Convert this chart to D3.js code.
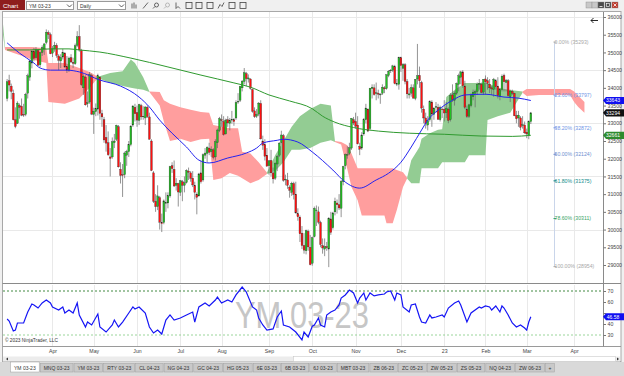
<!DOCTYPE html>
<html>
<head>
<meta charset="utf-8">
<script src="https://cdn.jsdelivr.net/npm/d3@7"></script>
<style>
  html, body { margin: 0; padding: 0; background: #f0f0f0; }
  svg { display: block; font-family: "Liberation Sans", Arial, sans-serif; }
</style>
</head>
<body>
<svg id="chart" width="624" height="376"></svg>
<script>
// ---- data (daily bars, index 0 = first visible bar) ----
const opens = [
  33700,34200,34050,33850,33100,33000,33500,33480,33250,33250,
  33850,34300,34700,35030,34850,35050,34650,35000,35100,35280,
  35560,35500,34980,35100,35200,34900,34760,34870,34980,34600,
  34500,34850,34720,34680,35200,35450,35050,34000,34300,33550,
  33600,34350,33250,33330,33400,34300,33270,33100,32600,32450,
  32050,32050,32450,32550,32900,31700,31550,31550,32100,32200,
  32400,32950,33450,33300,33080,33500,33200,33150,33450,33180,
  32500,31600,30800,30650,30900,30200,30200,30750,30750,30950,
  31800,31700,31250,31300,31050,31350,31250,31330,31650,31600,
  31450,31250,31000,30950,31600,31400,32100,32150,32300,32200,
  32250,32050,32450,32800,33100,33050,32700,33100,33000,33100,
  33100,33150,33600,33650,34000,34180,34400,34250,34250,33950,
  33350,33200,33260,33560,32500,32400,32100,31800,31950,31600,
  31450,31850,32100,32450,32650,31400,31400,31200,31050,31300,
  31000,30450,30350,29900,29550,29400,29950,29500,29050,29800,
  30550,30500,30200,29550,29450,29520,29450,30300,30050,30500,
  30750,30700,30600,31350,31800,32100,32150,32300,33100,33050,
  32950,32350,32300,32700,33100,33400,32850,33980,34000,33850,
  33850,33800,33850,34000,33980,34350,34480,34500,34600,34120,
  34100,34850,34550,34650,34180,33800,33850,34000,33700,34250,
  34350,34150,33400,33150,32950,33100,33600,33250,33450,33450,
  33100,33400,33400,33300,33400,33100,33800,33650,33850,34100,
  34300,34450,34050,33400,33200,33500,33750,33850,33900,34100,
  34100,33880,34250,34200,34100,34000,33950,34200,34050,33750,
  33950,34350,34150,34200,33750,33900,33850,33220,33150,33150,
  32950,32950,32750,32650,33050
];
const highs = [
  34250,34370,34120,33950,33450,33620,33560,33700,33550,33860,
  34400,34790,35060,35130,35150,35100,35020,35200,35260,35650,
  35620,35560,35180,35300,35260,34950,34950,35100,35010,34900,
  34880,34950,34850,35250,35600,35770,35100,34380,34350,33900,
  34450,34400,33440,33560,34400,34330,33380,33180,32950,32770,
  32300,32600,32700,32960,32950,31900,31850,32200,32250,32500,
  32950,33500,33550,33500,33550,33550,33480,33480,33500,33300,
  32550,31650,31000,31250,30950,30450,30850,31050,31050,31800,
  31900,31950,31450,31320,31400,31400,31500,31700,31750,31650,
  31650,31350,31050,31600,31950,32150,32300,32350,32450,32350,
  32300,32550,32850,33180,33250,33200,33130,33200,33150,33350,
  33150,33650,33850,34060,34220,34560,34450,34380,34270,33980,
  33450,33400,33600,33650,32650,32550,32300,31950,32250,31750,
  31900,32100,32470,32790,32700,31550,31600,31250,31350,31350,
  31350,30600,30400,30100,29900,30000,30000,29850,29800,30650,
  30680,30650,30250,29750,29750,29650,30350,30500,30500,30900,
  30850,31000,31400,31800,32150,32350,32450,33150,33180,33300,
  33200,32450,32750,33150,33550,33420,34000,34100,34100,34150,
  33950,33850,34100,34050,34380,34500,34530,34650,34650,34250,
  34880,34880,34700,34700,34250,34000,34100,34100,34250,35240,
  34600,34200,33500,33300,33200,33650,33650,33450,33600,33550,
  33500,33450,33650,33600,33450,33850,34100,33900,34150,34400,
  34480,34500,34200,33500,33550,33850,33950,33950,34150,34250,
  34150,34250,34350,34300,34250,34050,34280,34250,34300,34000,
  34380,34400,34250,34250,33950,33950,33860,33350,33350,33200,
  33200,33050,32850,33080,33320
];
const lows = [
  33620,33900,33680,33080,32860,32980,33130,33200,33180,33200,
  33700,34200,34550,34750,34800,34620,34580,34900,34930,35230,
  35380,34950,34870,35020,34850,34500,34560,34800,34560,34420,
  34450,34700,34560,34650,35150,35020,34050,33800,33500,33450,
  33550,33230,32700,33200,33220,33100,32900,32450,32200,32080,
  31500,32000,32300,32500,31750,31300,30920,31450,31800,32050,
  32350,32900,33050,32900,32950,33100,33100,32950,33150,32540,
  31650,30750,30500,30550,30000,29930,30150,30500,30600,30900,
  31600,31200,31100,30650,30950,30800,31050,31300,31400,31350,
  31200,30850,30430,30930,31300,31350,32000,31900,32100,32050,
  31980,31950,32300,32750,32900,32650,32680,32900,32800,32990,
  32930,33100,33550,33600,33900,34100,34050,34150,33950,33300,
  33150,33150,33200,32540,32250,31950,31780,31550,31500,31300,
  31400,31650,32050,32400,31350,31250,31150,30900,30950,30850,
  30450,30250,29650,29450,29320,29300,29400,28990,28980,29780,
  30100,30150,29500,29320,29250,29400,28940,29850,30000,30400,
  30450,30550,30350,31250,31700,32000,32100,32250,32950,32850,
  32400,32100,32250,32650,33000,32750,32800,33700,33780,33650,
  33700,33550,33800,33850,33950,34300,34420,34450,34100,34050,
  33950,34450,34200,34100,33700,33700,33750,33700,33650,34100,
  34000,33300,33000,32850,32800,33050,32900,33100,33300,33100,
  33050,33150,33050,33150,33000,33050,33600,33500,33800,33900,
  34100,34000,33400,33150,33150,33450,33650,33450,33800,33950,
  33850,33800,33800,33950,33850,33800,33750,33950,33700,33650,
  33900,33900,33900,33750,33600,33800,33200,33000,32900,32800,
  32850,32700,32580,32550,32980
];
const closes = [
  34170,34080,33900,33100,32910,33570,33450,33230,33230,33820,
  34340,34760,35040,34830,35090,34640,34990,35140,35240,35570,
  35510,34960,35100,35200,34920,34780,34860,35000,34590,34500,
  34840,34730,34690,35190,35440,35070,34090,34330,33520,33580,
  34380,33260,33340,33410,34340,33280,33180,32530,32440,32110,
  32010,32480,32500,32940,31770,31530,31540,32160,32210,32400,
  32920,33490,33270,33090,33530,33180,33200,33460,33190,32550,
  31670,30800,30650,30950,30210,30170,30810,30760,30960,31780,
  31720,31230,31310,31060,31380,31250,31320,31670,31620,31450,
  31260,31050,30910,31570,31350,32110,32160,32320,32180,32270,
  32040,32480,32810,33130,33080,32680,33090,33010,33080,33110,
  33050,33590,33620,34040,34190,34430,34260,34280,33990,33340,
  33190,33250,33570,32560,32380,32070,31790,31940,31600,31430,
  31870,32060,32440,32670,31390,31420,31250,31110,31310,30990,
  30470,30360,29880,29550,29420,29970,29510,29010,29770,30600,
  30550,30210,29580,29480,29520,29490,30320,29920,30470,30800,
  30700,30610,31360,31780,32120,32120,32310,33140,33010,32920,
  32420,32270,32670,33100,33430,32780,33990,34020,33810,33860,
  33820,33820,34020,33970,34370,34470,34500,34620,34120,34120,
  34860,34630,34660,34180,33830,33830,34010,33710,34240,34340,
  34200,33430,33150,32990,33080,33610,33260,33430,33470,33110,
  33450,33380,33290,33420,33080,33780,33670,33850,34120,34340,
  34450,34060,33450,33190,33520,33780,33880,33890,34100,34130,
  33870,34240,34170,34130,34000,33970,34240,34030,33780,33950,
  34330,34170,34210,33780,33910,33850,33210,33130,33230,32890,
  32960,32730,32700,33050,33294
];

// month starts (bar index) and their labels
const monthIdx = [22, 42, 63, 84, 104, 127, 148, 169, 191, 212, 232, 252, 275];
const monthLbl = ["Apr", "May", "Jun", "Jul", "Aug", "Sep", "Oct", "Nov", "Dec", "23", "Feb", "Mar", "Apr"];

// ichimoku cloud edges (1 = bullish/green to next point, 0 = bearish/pink)
const cloudIdx = [-2, -1, 6, 12, 19, 20, 28, 35, 40, 44, 50, 56, 60, 62, 66, 69, 74, 76, 79, 84, 89, 94, 98,
  100, 104, 108, 112, 114, 118, 122, 126, 130, 134, 138, 142, 147, 152, 157, 159, 162, 165, 167, 170, 172,
  183, 184, 187, 189, 192, 194, 196, 200, 201, 205, 209, 211, 213, 217, 222, 224, 232, 233, 238, 244, 250,
  252, 258, 265, 273, 275, 277, 280];
const cloudHi = [35800, 35150, 35150, 35150, 35120, 34700, 34700, 34560, 34450, 34310, 34420, 34470, 34800, 34700,
  34300, 33900, 33880, 33650, 33550, 33450, 33380, 33320, 33300, 32950, 32900, 32860, 32860, 32200, 32150, 31900,
  31610, 32100, 32500, 32900, 33200, 33400, 33550, 33500, 32500, 32470, 32380, 32150, 31730, 31730, 31730, 31730,
  31730, 31680, 31620, 31460, 31960, 32330, 32560, 32720, 32820, 32830, 33740, 33940, 34140, 34140, 34140, 34140,
  34000, 33940, 33900, 33970, 33970, 33970, 33970, 33900, 33780, 33600];
const cloudLo = [35500, 35070, 34930, 34800, 34700, 33600, 33550, 33700, 34000, 34280, 34140, 34050, 34000, 33980,
  33950, 33880, 33500, 33050, 32500, 32560, 32470, 32550, 32560, 31400, 31450, 31600, 31520, 31450, 31310, 31400,
  31570, 31650, 31900, 32250, 32250, 32300, 32450, 32520, 32470, 32400, 31700, 31200, 30830, 30400, 30400, 30180,
  30180, 30550, 31200, 31440, 31310, 31310, 31730, 31730, 31730, 31900, 31900, 31900, 31900, 32100, 32100, 33090,
  33200, 33300, 33860, 33770, 33800, 33800, 33800, 33600, 33460, 33300];
const cloudUp = [1, 0, 0, 0, 0, 0, 0, 0, 0, 1, 1, 1, 1, 1, 1, 0, 0, 0, 0, 0, 0, 0, 0, 0, 0, 0, 0, 0, 0, 0,
  1, 1, 1, 1, 1, 1, 1, 1, 0, 0, 0, 0, 0, 0, 0, 0, 0, 0, 0, 1, 1, 1, 1, 1, 1, 1, 1, 1, 1, 1, 1, 1, 1, 1,
  0, 0, 0, 0, 0, 0, 0, 0];

// moving averages
const blueIdx = [0, 6, 13, 16, 21, 29, 35, 45, 55, 64, 69, 74, 80, 87, 93, 98, 107, 116, 121, 124, 131, 134, 141,
  148, 158, 164, 171, 179, 185, 191, 196, 201, 204, 209, 216, 222, 232, 241, 248, 254];
const blueVal = [35270, 34980, 34700, 34560, 34500, 34500, 34450, 34220, 34050, 33740, 33460, 33090, 32720, 32330,
  31960, 31880, 32020, 32160, 32300, 32440, 32520, 32550, 32470, 32190, 31680, 31340, 31170, 31400, 31590, 31900,
  32330, 32810, 33090, 33370, 33650, 33800, 33820, 33740, 33710, 33643];
const greenIdx = [0, 11, 21, 30, 35, 45, 60, 78, 94, 110, 118, 127, 137, 148, 153, 159, 168, 180, 195, 212, 230, 245, 254];
const greenVal = [35070, 35070, 35100, 35100, 35070, 35010, 34840, 34590, 34360, 34140, 34020, 33800, 33630, 33410,
  33200, 33030, 32880, 32780, 32720, 32690, 32640, 32630, 32661];

// RSI
const rsiIdx = [0, 1, 3, 4, 5, 6, 8, 10, 12, 13, 15, 17, 19, 21, 22, 25, 27, 28, 30, 32, 34, 35, 38, 39, 41, 44, 45,
  48, 51, 52, 54, 56, 59, 61, 62, 64, 67, 69, 71, 73, 75, 77, 79, 81, 84, 87, 90, 91, 93, 96, 98, 101, 102, 104,
  107, 109, 111, 114, 116, 119, 121, 122, 124, 126, 129, 131, 133, 134, 137, 140, 143, 144, 146, 148, 149, 151,
  152, 154, 155, 157, 159, 161, 162, 164, 166, 168, 170, 171, 173, 174, 176, 178, 180, 183, 184, 186, 188, 189,
  191, 192, 195, 196, 198, 200, 201, 203, 205, 206, 208, 211, 212, 214, 217, 219, 220, 223, 225, 229, 230, 232,
  234, 235, 237, 239, 240, 241, 243, 245, 247, 249, 251, 252, 253, 254];
const rsiVal = [44.5, 42.7, 33.6, 34.5, 40.9, 40.9, 40.9, 50.9, 58.2, 57.3, 54.5, 59.1, 61.8, 59.1, 55.5, 52.7, 55.5,
  50, 52.7, 50, 59.1, 48.2, 37.3, 41.8, 39.1, 49.1, 37.3, 32.7, 39.1, 43.6, 37.3, 41.8, 50, 55.5, 53.6, 55.5, 50,
  37.3, 31.8, 34.5, 30.9, 43.6, 48.2, 43.6, 45.5, 48.2, 50.9, 41.8, 55.5, 59.1, 56.4, 61.8, 64.5, 59.1, 61.8, 60,
  66.4, 73.6, 69.1, 55.5, 52.7, 45.5, 39.1, 34.5, 35.5, 46.4, 51.8, 39.1, 37.3, 32.7, 25.5, 32.7, 28.2, 38, 39.1,
  45.5, 39.1, 37.3, 48.2, 50.9, 52.7, 57.3, 63.6, 66.4, 70.9, 68.2, 59.1, 63.6, 68.2, 61.8, 68.2, 65.5, 66.4, 67.3,
  69.1, 70, 61.8, 68.2, 66.4, 55.5, 50.9, 57.3, 58.2, 46.4, 41.8, 40.9, 48.2, 45.5, 46.4, 48.2, 46.4, 54.5, 59.1,
  60.9, 57.3, 41.8, 50, 55.5, 54.5, 56.4, 55.5, 52.7, 56.4, 50.9, 56.4, 54.5, 48.2, 40.9, 37.3, 39.1, 36.4, 34.5,
  41.8, 46.58];

// fibonacci retracement
const fibBar = 265;
const fibPct = ["0.00%", "23.60%", "38.20%", "50.00%", "61.80%", "78.60%", "100.00%"];
const fibPrice = [35293, 33797, 32872, 32124, 31375, 30311, 28954];

// axis ticks, grid and tags
const priceTicks = [29000, 29500, 30000, 30500, 31000, 31500, 32000, 32500, 33000, 33500, 34000, 34500, 35000, 35500, 36000];
const priceGrid = [30000, 31500, 33000, 34500, 36000];
const rsiTicks = [30, 40, 50, 60, 70];
const tagValues = [33643, 33294, 32661];
const rsiLast = 46.58;

const tabLabels = ["YM 03-23", "MNQ 03-23", "YM 03-23", "RTY 03-23", "CL 04-23", "NG 04-23", "GC 04-23", "HG 05-23",
  "6E 03-23", "6B 03-23", "6J 03-23", "MBT 03-23", "ZB 06-23", "ZC 05-23", "ZW 05-23", "ZS 05-23", "NQ 04-23", "ZW 06-23", "+"];

// ---- layout ----
const svg = d3.select("#chart");
const plot = { left: 3, right: 603, top: 12, bottom: 283 };
const rsiBox = { top: 285, bottom: 346 };

const x = d3.scaleLinear().domain([-2, 289]).range([plot.left, plot.right]);
const y = d3.scaleLinear().domain([29000, 36000]).range([265, 17]);
const yR = d3.scaleLinear().domain([30, 70]).range([335, 291]);

// window chrome
svg.append("rect").attr("width", 624).attr("height", 376).attr("fill", "#f0f0f0");
svg.append("rect").attr("x", 2.5).attr("y", 11.5).attr("width", 618.5).attr("height", 350)
  .attr("fill", "#fff").attr("stroke", "#a8a8a8");

// toolbar
svg.append("rect").attr("x", 0).attr("y", 0).attr("width", 25).attr("height", 10).attr("fill", "#8e1d1d");
svg.append("text").attr("x", 3).attr("y", 7.5).attr("font-size", 6.2).attr("fill", "#fff").text("Chart");
[[26, 47, "YM 03-23"], [77, 48, "Daily"]].forEach(([bx, bw, t]) => {
  svg.append("rect").attr("x", bx + 0.5).attr("y", 1.5).attr("width", bw).attr("height", 8)
    .attr("fill", "#fff").attr("stroke", "#9a9a9a");
  svg.append("text").attr("x", bx + 3).attr("y", 7.6).attr("font-size", 5).attr("fill", "#333").text(t);
  svg.append("path").attr("d", `M${bx + bw - 6},4.5 l2.5,2.5 l2.5,-2.5`).attr("fill", "none").attr("stroke", "#333").attr("stroke-width", 0.8);
});
const icons = [131, 142, 152, 163, 174, 185, 195, 206, 217, 228, 239];
icons.forEach((ix, k) => {
  const g = svg.append("g").attr("transform", `translate(${ix},1.5)`).attr("stroke", k === 3 ? "#aaa" : "#444")
    .attr("fill", "none").attr("stroke-width", 0.8);
  if (k === 0) g.append("path").attr("d", "M1,2 v5 M3,1 v6 M5,3 v4");
  else if (k === 1) g.append("path").attr("d", "M1,7 L6,1");
  else if (k === 2 || k === 3) g.append("path").attr("d", "M1,7 L3,5 M4.5,3.5 m-2,0 a2,2 0 1,0 4,0 a2,2 0 1,0 -4,0");
  else if (k === 4) g.append("path").attr("d", "M2,1 L2,7 L4,5 L6,7");
  else if (k === 8) g.append("path").attr("d", "M1,7 L3,3 L5,5 L7,1");
  else g.append("rect").attr("x", 1).attr("y", 1).attr("width", 6).attr("height", 6);
});
// window buttons
[[586, "#c8c8c8"], [592, "#c8c8c8"], [598, "#4a4a4a"], [605, "#4a4a4a"], [612, "#c0392b"]].forEach(([bx, c]) => {
  svg.append("rect").attr("x", bx).attr("y", 2).attr("width", 6).attr("height", 6).attr("fill", c).attr("stroke", "#888").attr("stroke-width", 0.4);
});
svg.append("path").attr("d", "M613.5,3.5 l3,3 M616.5,3.5 l-3,3").attr("stroke", "#fff").attr("stroke-width", 0.8);
svg.append("path").attr("d", "M599.5,6.5 h3").attr("stroke", "#fff").attr("stroke-width", 0.8);
svg.append("rect").attr("x", 606.5).attr("y", 3.5).attr("width", 3).attr("height", 3).attr("fill", "none").attr("stroke", "#fff").attr("stroke-width", 0.6);

// clip paths
const defs = svg.append("defs");
defs.append("clipPath").attr("id", "clipP").append("rect")
  .attr("x", plot.left).attr("y", plot.top).attr("width", plot.right - plot.left).attr("height", plot.bottom - plot.top);
defs.append("clipPath").attr("id", "clipR").append("rect")
  .attr("x", plot.left).attr("y", rsiBox.top).attr("width", plot.right - plot.left).attr("height", rsiBox.bottom - rsiBox.top);

// grid
const grid = svg.append("g").attr("stroke", "#e9e9e9").attr("stroke-width", 1);
grid.selectAll(".vg").data(monthIdx).join("line").attr("class", "vg")
  .attr("x1", d => Math.round(x(d)) + 0.5).attr("x2", d => Math.round(x(d)) + 0.5)
  .attr("y1", plot.top).attr("y2", plot.bottom);
grid.selectAll(".vr").data(monthIdx).join("line").attr("class", "vr")
  .attr("x1", d => Math.round(x(d)) + 0.5).attr("x2", d => Math.round(x(d)) + 0.5)
  .attr("y1", rsiBox.top).attr("y2", rsiBox.bottom);
grid.selectAll(".hg").data(priceGrid).join("line").attr("class", "hg")
  .attr("x1", plot.left).attr("x2", plot.right)
  .attr("y1", d => Math.round(y(d)) + 0.5).attr("y2", d => Math.round(y(d)) + 0.5);

// ---- price panel ----
const gP = svg.append("g").attr("clip-path", "url(#clipP)");

// cloud segments
const segs = [];
let cur = null;
cloudIdx.forEach((d, k) => {
  if (!cur) { cur = { up: cloudUp[k], pts: [k] }; segs.push(cur); return; }
  cur.pts.push(k);
  if (k < cloudIdx.length - 1 && cloudUp[k] !== cur.up) {
    cur = { up: cloudUp[k], pts: [k] };
    segs.push(cur);
  }
});
const cloudArea = d3.area()
  .x(k => x(cloudIdx[k])).y0(k => y(cloudLo[k])).y1(k => y(cloudHi[k]));
gP.selectAll(".cloud").data(segs).join("path").attr("class", "cloud")
  .attr("d", s => cloudArea(s.pts))
  .attr("fill", s => s.up ? "#93cc93" : "#ff9e9e");

// candles
const bars = d3.range(closes.length);
const cw = 1.8;
gP.append("g").selectAll("line").data(bars).join("line")
  .attr("x1", i => x(i)).attr("x2", i => x(i))
  .attr("y1", i => y(highs[i])).attr("y2", i => y(lows[i]))
  .attr("stroke", "#666").attr("stroke-width", 0.7);
gP.append("g").selectAll("rect").data(bars).join("rect")
  .attr("x", i => x(i) - cw / 2).attr("width", cw)
  .attr("y", i => y(Math.max(opens[i], closes[i])))
  .attr("height", i => Math.max(0.7, Math.abs(y(opens[i]) - y(closes[i]))))
  .attr("fill", i => closes[i] >= opens[i] ? "#22c022" : "#ff1010")
  .attr("stroke", "#2a2a2a").attr("stroke-width", 0.3);

// moving averages
const maLine = (idx, val) => d3.line().curve(d3.curveMonotoneX)
  .x(k => x(idx[k])).y(k => y(val[k]))(d3.range(idx.length));
gP.append("path").attr("d", maLine(greenIdx, greenVal)).attr("fill", "none").attr("stroke", "#2f9a2f").attr("stroke-width", 1);
gP.append("path").attr("d", maLine(blueIdx, blueVal)).attr("fill", "none").attr("stroke", "#2323f0").attr("stroke-width", 1);

// fibonacci
const fibColors = ["#a8a8a8", "#6f95e6", "#6f95e6", "#6f8fd0", "#138c8c", "#3aa468", "#a8a8a8"];
const fx = Math.round(x(fibBar)) + 0.5;
gP.append("line").attr("x1", fx).attr("x2", fx).attr("y1", y(fibPrice[0])).attr("y2", y(fibPrice[6]))
  .attr("stroke", "#c9d5ea").attr("stroke-width", 1);
gP.selectAll(".fibt").data(fibPrice).join("line").attr("class", "fibt")
  .attr("x1", fx - 1).attr("x2", fx + 2).attr("y1", d => y(d)).attr("y2", d => y(d))
  .attr("stroke", (d, k) => fibColors[k]).attr("stroke-width", 1);
gP.selectAll(".fibl").data(fibPrice).join("text").attr("class", "fibl")
  .attr("x", fx).attr("y", d => y(d) + 1.8).attr("font-size", 5.2)
  .attr("fill", (d, k) => fibColors[k])
  .text((d, k) => `${fibPct[k]} (${d})`);

// arrow glyph top right
svg.append("path").attr("d", "M591,20.5 h7 M591,20.5 l2.5,-2.5 M591,20.5 l2.5,2.5")
  .attr("stroke", "#111").attr("stroke-width", 0.9).attr("fill", "none");

// ---- RSI panel ----
const gR = svg.append("g").attr("clip-path", "url(#clipR)");
gR.append("text").attr("x", 302).attr("y", 327.5).attr("text-anchor", "middle")
  .attr("font-size", 37).attr("fill", "#c6c6c6").attr("textLength", 134).attr("lengthAdjust", "spacingAndGlyphs")
  .text("YM 03-23");
gR.append("line").attr("x1", plot.left).attr("x2", plot.right).attr("y1", yR(70)).attr("y2", yR(70))
  .attr("stroke", "#2d7d2d").attr("stroke-width", 0.9).attr("stroke-dasharray", "2,2");
gR.append("line").attr("x1", plot.left).attr("x2", plot.right).attr("y1", yR(30)).attr("y2", yR(30))
  .attr("stroke", "#8fd08f").attr("stroke-width", 0.9).attr("stroke-dasharray", "2,2");
gR.append("path").attr("d", d3.line().x(k => x(rsiIdx[k])).y(k => yR(rsiVal[k]))(d3.range(rsiIdx.length)))
  .attr("fill", "none").attr("stroke", "#1515f5").attr("stroke-width", 1.2);
svg.append("text").attr("x", 5).attr("y", 341.5).attr("font-size", 4.8).attr("fill", "#333").text("© 2023 NinjaTrader, LLC");

// panel frames
svg.append("line").attr("x1", 2.5).attr("x2", 621).attr("y1", 283.5).attr("y2", 283.5).attr("stroke", "#8a8a8a").attr("stroke-width", 1.2);
svg.append("line").attr("x1", 2.5).attr("x2", 621).attr("y1", 346.5).attr("y2", 346.5).attr("stroke", "#9a9a9a");
svg.append("line").attr("x1", plot.right + 0.5).attr("x2", plot.right + 0.5).attr("y1", plot.top).attr("y2", 346.5)
  .attr("stroke", "#8a8a8a");

// ---- axes ----
const styleAxis = g => {
  g.select(".domain").remove();
  g.attr("font-family", null).attr("font-size", null);
  g.selectAll("text").attr("font-size", 5.2).attr("fill", "#444");
  g.selectAll("line").attr("stroke", "#777");
};
svg.append("g").attr("transform", `translate(${plot.right + 0.5},0)`)
  .call(d3.axisRight(y).tickValues(priceTicks).tickSize(2.5).tickPadding(1.5).tickFormat(d3.format("d")))
  .call(styleAxis);
// the 50 label sits under the RSI value tag, as in the original
svg.append("g").attr("transform", `translate(${plot.right + 0.5},0)`)
  .call(d3.axisRight(yR).tickValues(rsiTicks).tickSize(2.5).tickPadding(1.5)
    .tickFormat(d => Math.abs(yR(d) - yR(rsiLast)) < 5 ? "" : d))
  .call(styleAxis);
svg.append("g").attr("transform", "translate(0,346.5)")
  .call(d3.axisBottom(x).tickValues(monthIdx).tickSize(0).tickPadding(3).tickFormat((d, k) => monthLbl[k]))
  .call(styleAxis);

// price tags
const tag = (yy, fill, label) => {
  svg.append("path")
    .attr("d", `M${plot.right},${yy} l3,-3.6 h18 v7.2 h-18 z`)
    .attr("fill", fill);
  svg.append("text").attr("x", 613).attr("y", yy + 1.8).attr("text-anchor", "middle")
    .attr("font-size", 5).attr("fill", "#fff").text(label);
};
const tagFill = ["#1010f0", "#111111", "#2e8b2e"];
tagValues.forEach((v, k) => tag(y(v), tagFill[k], v));
tag(yR(rsiLast), "#1010f0", rsiLast.toFixed(2));

// ---- scrollbar ----
svg.append("rect").attr("x", 3).attr("y", 356.5).attr("width", 617).attr("height", 5).attr("fill", "#ececec");
svg.append("rect").attr("x", 293.5).attr("y", 356.5).attr("width", 322).attr("height", 5)
  .attr("fill", "#fff").attr("stroke", "#c4c4c4").attr("stroke-width", 0.5);
svg.append("path").attr("d", "M6,359 l2,-1.5 v3 z").attr("fill", "#333");
svg.append("path").attr("d", "M619,359 l-2,-1.5 v3 z").attr("fill", "#333");

// ---- tabs ----
svg.append("rect").attr("x", 0).attr("y", 362).attr("width", 624).attr("height", 14).attr("fill", "#d9d9d9");
let tx = 10;
tabLabels.forEach((t, k) => {
  const g = svg.append("g");
  const txt = g.append("text").attr("y", 369.8).attr("font-size", 5).attr("fill", "#333").text(t);
  const tw = txt.node().getComputedTextLength() + (t === "+" ? 7 : 8);
  g.insert("rect", "text").attr("x", tx + 0.5).attr("y", k === 0 ? 362 : 363.5).attr("width", tw - 1)
    .attr("height", k === 0 ? 10 : 8.5)
    .attr("fill", k === 0 ? "#ffffff" : "#c9c9c9").attr("stroke", "#a0a0a0").attr("stroke-width", 0.5);
  txt.attr("x", tx + tw / 2).attr("text-anchor", "middle");
  tx += tw;
});
</script>
</body>
</html>
